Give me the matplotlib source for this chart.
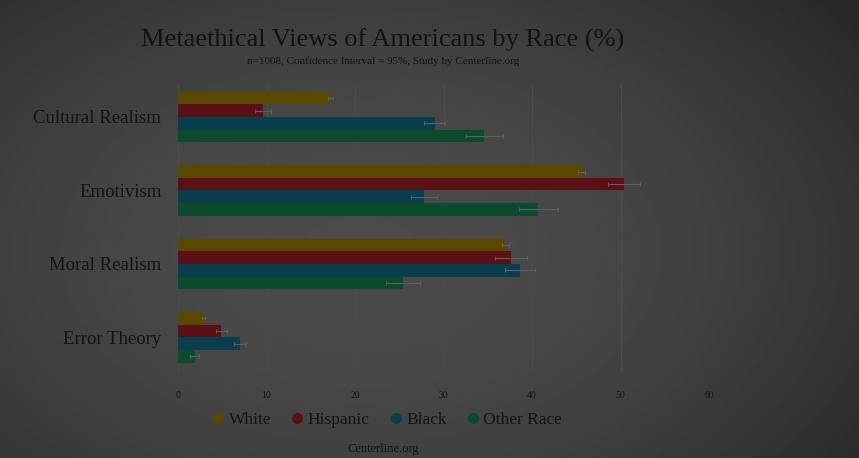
import numpy as np
import matplotlib
matplotlib.use("Agg")
import matplotlib.pyplot as plt
from matplotlib.lines import Line2D

# data
categories = ["Cultural Realism", "Emotivism", "Moral Realism", "Error Theory"]
races = ["White", "Hispanic", "Black", "Other Race"]
white = [17.2, 45.6, 37.0, 2.9]
hispanic = [9.6, 50.4, 37.6, 4.9]
black = [29.0, 27.8, 38.6, 7.0]
other = [34.6, 40.7, 25.4, 1.9]
err_white = [0.3, 0.4, 0.4, 0.2]
err_hispanic = [0.9, 1.8, 1.8, 0.6]
err_black = [1.2, 1.5, 1.7, 0.7]
err_other = [2.1, 2.2, 1.9, 0.5]
xticks = [0, 10, 20, 30, 40, 50, 60]

colors = ["#5a4800", "#5a1014", "#0a3e4e", "#0b4a2c"]
txt = "#121212"
plt.rcParams['font.family'] = ['Liberation Serif', 'DejaVu Serif']

fig = plt.figure(figsize=(8.59, 4.58), dpi=100)

# dark vignette background
bg = fig.add_axes([0, 0, 1, 1], zorder=-10)
yy, xx = np.mgrid[0:1:200j, 0:1:370j]
r = np.sqrt(((xx - 0.42) / 0.75) ** 2 + ((yy - 0.55) / 0.9) ** 2)
shade = np.clip(75 - 38 * r ** 2, 40, 75) / 255.0
bg.imshow(shade, cmap="gray", vmin=0, vmax=1, aspect="auto", extent=[0, 1, 0, 1])
bg.axis("off")

ax = fig.add_axes([178 / 859, 1 - 372 / 458, (709 - 178) / 859, (372 - 85) / 458])
ax.patch.set_alpha(0)

y = np.arange(len(categories))
h = 0.172
series = [white, hispanic, black, other]
errs = [err_white, err_hispanic, err_black, err_other]
for i, (vals, e, c, name) in enumerate(zip(series, errs, colors, races)):
    pos = y + (i - 1.5) * h
    ax.barh(pos, vals, height=h, color=c, label=name, zorder=2)
    ax.errorbar(vals, pos, xerr=e, fmt="none", ecolor="#606060", elinewidth=0.8,
                capsize=1.5, capthick=0.8, zorder=3)

ax.set_xlim(0, 60)
ax.set_ylim(3.47, -0.435)
ax.set_yticks(y)
ax.set_yticklabels(categories, fontsize=13.5, color=txt)
ax.set_xticks(xticks)
ax.set_xticklabels([str(v) for v in xticks], fontsize=7, color=txt)
ax.tick_params(axis="both", length=0)
ax.tick_params(axis="x", pad=14)
ax.tick_params(axis="y", pad=12)
ax.grid(axis="x", color="#4c4c4c", linewidth=0.8, zorder=0)
for s in ax.spines.values():
    s.set_visible(False)

fig.text(383 / 859, 1 - 40 / 458, "Metaethical Views of Americans by Race (%)",
         ha="center", va="center", fontsize=19, color=txt)
fig.text(383 / 859, 1 - 61 / 458,
         "n=1008, Confidence Interval = 95%, Study by Centerline.org",
         ha="center", va="center", fontsize=8, color=txt)

handles = [Line2D([0], [0], marker="o", linestyle="", markersize=7,
                  markerfacecolor=c, markeredgecolor=c) for c in colors]
fig.legend(handles, races, loc="center", bbox_to_anchor=(385 / 859, 1 - 420 / 458),
           ncol=4, frameon=False, fontsize=12.5, handletextpad=0.0, columnspacing=0.9,
           handlelength=1.2, labelcolor=txt)

fig.text(383 / 859, 1 - 449 / 458, "Centerline.org", ha="center", va="center",
         fontsize=9, color=txt)

fig.savefig("out.png", dpi=100)
